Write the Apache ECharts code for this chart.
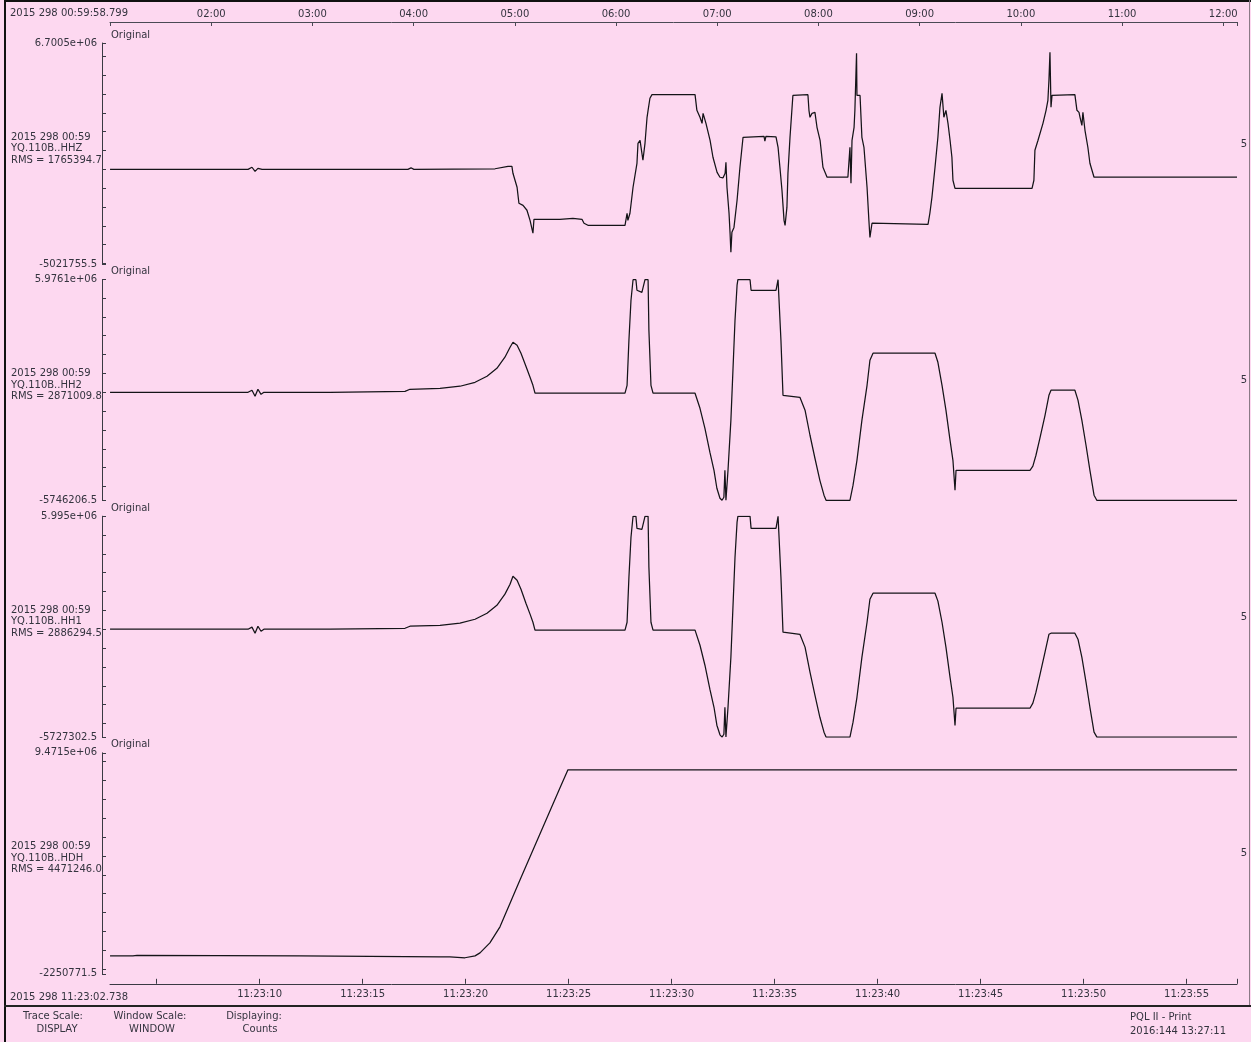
<!DOCTYPE html>
<html>
<head>
<meta charset="utf-8">
<script src="https://cdn.jsdelivr.net/npm/echarts@6/dist/echarts.min.js"></script>
<style>
  html, body { margin: 0; padding: 0; background: #fdd8f0; }
  #chart { width: 1251px; height: 1042px; }
</style>
</head>
<body>
<div id="chart"></div>
<script>
// ---- Trace data ----------------------------------------------------------
// Time: seconds after 2015 298 11:23:00; amplitude: counts, in millions.
const hhzSec = [2.74,9.44,9.63,9.78,9.92,10.12,17.20,17.35,17.49,21.43,22.06,22.25,22.30,22.50,22.59,22.79,22.98,23.13,23.27,23.32,24.58,25.21,25.65,25.75,25.94,27.74,27.84,27.88,27.98,28.13,28.32,28.37,28.47,28.61,28.71,28.81,28.86,28.95,29.05,31.14,31.23,31.38,31.48,31.53,31.67,31.87,32.01,32.21,32.35,32.50,32.60,32.64,32.69,32.79,32.84,32.88,32.93,33.03,33.18,33.32,33.47,33.51,34.49,34.53,34.58,35.07,35.17,35.26,35.36,35.46,35.51,35.60,35.65,35.75,35.89,36.62,36.67,36.72,36.82,36.96,37.06,37.21,37.35,37.55,38.56,38.66,38.71,38.76,38.86,38.90,38.98,39.00,39.15,39.24,39.34,39.49,39.58,39.63,39.73,39.78,42.45,42.54,42.64,42.79,42.93,43.03,43.13,43.22,43.32,43.42,43.52,43.61,43.66,43.76,47.50,47.59,47.64,47.79,48.03,48.18,48.27,48.32,48.37,48.42,48.47,49.58,49.68,49.78,49.83,49.92,49.97,50.07,50.21,50.31,50.51,57.45];
const hhzMc = [0,0,0.11,-0.11,0.05,0,0,0.08,0,0.03,0.16,0.16,-0.21,-0.95,-1.80,-1.91,-2.17,-2.71,-3.39,-2.65,-2.65,-2.60,-2.65,-2.86,-2.97,-2.97,-2.33,-2.71,-2.33,-0.95,0.32,1.38,1.54,0.48,1.38,2.76,3.13,3.77,3.96,3.96,3.13,2.76,2.44,2.97,2.44,1.54,0.64,-0.16,-0.42,-0.45,-0.21,0.37,-0.95,-2.33,-3.39,-4.40,-3.34,-3.08,-1.64,0.11,1.70,1.75,1.75,1.49,1.75,1.72,1.17,0.11,-1.11,-2.71,-2.97,-2.02,-0.21,1.70,3.92,3.96,3.13,2.76,2.97,3.02,2.23,1.54,0.11,-0.42,-0.42,1.17,-0.74,1.54,2.23,3.13,6.15,3.92,3.92,1.70,1.17,-0.95,-2.71,-3.61,-2.86,-2.92,-2.92,-2.33,-1.49,0.11,1.70,3.29,4.03,2.76,3.13,2.44,1.54,0.64,-0.58,-1.01,-1.01,-0.58,1.01,1.54,2.44,3.13,3.66,4.72,6.21,3.29,3.92,3.96,3.13,3.02,2.76,2.33,3.02,2.07,1.17,0.32,-0.42,-0.42];

const hh2Sec = [2.74,9.44,9.63,9.78,9.92,10.07,10.21,13.42,17.06,17.30,18.76,19.73,20.46,21.04,21.52,21.91,22.16,22.30,22.50,22.69,22.93,23.13,23.27,23.37,27.74,27.84,27.93,28.03,28.13,28.27,28.32,28.56,28.71,28.86,28.90,29.00,29.10,31.14,31.38,31.62,31.86,32.06,32.20,32.35,32.45,32.54,32.59,32.64,32.74,32.88,32.98,33.08,33.18,33.22,33.81,33.86,35.07,35.17,35.26,35.31,35.41,36.23,36.48,36.72,36.96,37.20,37.40,37.50,38.66,38.81,39.00,39.24,39.49,39.63,39.78,42.79,42.93,43.13,43.32,43.52,43.66,43.76,43.81,43.90,47.40,47.54,47.69,47.88,48.13,48.32,48.42,49.58,49.73,49.92,50.12,50.31,50.51,50.65,57.45];
const hh2Mc = [0,0,0.11,-0.21,0.16,-0.11,0,0,0.05,0.16,0.21,0.32,0.53,0.85,1.27,1.86,2.39,2.65,2.49,2.07,1.38,0.80,0.37,-0.05,-0.05,0.37,2.76,4.88,5.97,5.97,5.41,5.30,5.97,5.97,3.29,0.37,-0.05,-0.05,-0.85,-1.91,-3.18,-4.14,-5.09,-5.62,-5.73,-5.57,-4.14,-5.73,-4.14,-1.49,1.17,3.82,5.68,5.97,5.97,5.41,5.41,5.97,5.97,2.76,-0.16,-0.27,-0.95,-2.28,-3.50,-4.67,-5.46,-5.73,-5.73,-4.93,-3.61,-1.49,0.37,1.70,2.07,2.07,1.59,0.37,-0.95,-2.55,-3.61,-5.20,-4.14,-4.14,-4.14,-3.92,-3.34,-2.44,-1.22,-0.16,0.11,0.11,-0.42,-1.49,-2.81,-4.14,-5.46,-5.74,-5.74];

const hh1Sec = [2.74,9.44,9.63,9.78,9.92,10.07,10.21,13.42,17.06,17.30,18.76,19.73,20.46,21.04,21.52,21.91,22.16,22.30,22.50,22.69,22.93,23.13,23.27,23.37,27.74,27.84,27.93,28.03,28.13,28.27,28.32,28.56,28.71,28.86,28.90,29.00,29.10,31.14,31.38,31.62,31.86,32.06,32.20,32.35,32.45,32.54,32.59,32.64,32.74,32.88,32.98,33.08,33.18,33.22,33.81,33.86,35.07,35.17,35.26,35.31,35.41,36.23,36.48,36.72,36.96,37.20,37.40,37.50,38.66,38.81,39.00,39.24,39.49,39.63,39.78,42.79,42.93,43.13,43.32,43.52,43.66,43.76,43.81,43.90,47.40,47.54,47.69,47.88,48.13,48.32,48.42,49.58,49.73,49.92,50.12,50.31,50.51,50.65,57.45];
const hh1Mc = [0,0,0.11,-0.21,0.16,-0.11,0,0,0.05,0.16,0.21,0.32,0.53,0.85,1.27,1.86,2.39,2.81,2.60,2.12,1.38,0.80,0.37,-0.05,-0.05,0.37,2.76,4.88,5.99,5.99,5.35,5.30,5.99,5.99,3.29,0.37,-0.05,-0.05,-0.85,-1.91,-3.18,-4.14,-5.09,-5.60,-5.72,-5.57,-4.14,-5.72,-4.14,-1.49,1.17,3.82,5.68,5.99,5.99,5.35,5.35,5.99,5.99,2.76,-0.16,-0.27,-0.95,-2.28,-3.50,-4.67,-5.46,-5.72,-5.72,-4.93,-3.61,-1.49,0.37,1.59,1.91,1.91,1.49,0.37,-0.95,-2.55,-3.61,-5.10,-4.19,-4.19,-4.19,-3.92,-3.34,-2.44,-1.22,-0.27,-0.21,-0.21,-0.53,-1.49,-2.81,-4.14,-5.46,-5.72,-5.72];

const hdhSec = [2.74,3.85,4.05,11.96,18.76,19.24,19.97,20.46,20.70,21.18,21.67,22.64,23.61,24.58,24.97,57.45];
const hdhMc = [-1.30,-1.30,-1.27,-1.30,-1.35,-1.35,-1.40,-1.30,-1.14,-0.61,0.24,2.73,5.17,7.61,8.57,8.57];

// ---- Panel headers ---------------------------------------------------------
const channels = ['YQ.110B..HHZ', 'YQ.110B..HH2', 'YQ.110B..HH1', 'YQ.110B..HDH'];
const rmsValues = ['1765394.7', '2871009.8', '2886294.5', '4471246.0'];
const windowMax = [6.7005e6, 5.9761e6, 5.995e6, 9.4715e6];
const windowMin = [-5021755.5, -5746206.5, -5727302.5, -2250771.5];
const traceStart = '2015 298 00:59';

// ---- Time axes --------------------------------------------------------------
const secondsMin = 2.738, secondsMax = 57.45;
const secondTicks = [5, 10, 15, 20, 25, 30, 35, 40, 45, 50, 55];
const secondLabels = [10, 15, 20, 25, 30, 35, 40, 45, 50, 55];
const hourMin = 0.99967, hourMax = 12.136;
const hourTicks = [1, 2, 3, 4, 5, 6, 7, 8, 9, 10, 11, 12];
const hourLabels = [2, 3, 4, 5, 6, 7, 8, 9, 10, 11, 12];
const topStartText = '2015 298 00:59:58.799';
const bottomStartText = '2015 298 11:23:02.738';

// ---- Helpers ---------------------------------------------------------------
const FONT = '10px "DejaVu Sans"';
const INK = '#34343f';
const pad2 = v => (v < 10 ? '0' : '') + v;

// window limits printed like C's %g for the top and %.1f for the bottom
function fmtLimit(v) {
  if (v < 0) return v.toFixed(1);
  const s = v.toPrecision(5);
  if (s.indexOf('e') < 0) return s;
  let [m, e] = s.split('e');
  if (m.indexOf('.') >= 0) m = m.replace(/0+$/, '').replace(/\.$/, '');
  let d = e.slice(1);
  if (d.length < 2) d = '0' + d;
  return m + 'e' + e[0] + d;
}
function countTicks(min, max) {
  const out = [min];
  for (let k = Math.ceil(min / 1e6); k <= Math.floor(max / 1e6); k++) out.push(k * 1e6);
  out.push(max);
  return out;
}
const pairs = (t, m) => t.map((s, i) => [s, m[i] * 1e6]);

const traces = [pairs(hhzSec, hhzMc), pairs(hh2Sec, hh2Mc), pairs(hh1Sec, hh1Mc), pairs(hdhSec, hdhMc)];

// ---- Layout ----------------------------------------------------------------
const PLOT_LEFT = 110, PLOT_W = 1127, PANEL_H = 221;
const panelTop = [43, 279.6, 516.2, 752.8];

const grids = panelTop.map(t => ({ left: PLOT_LEFT, top: t, width: PLOT_W, height: PANEL_H }));

const xAxes = panelTop.map((t, i) => {
  const isBottom = i === panelTop.length - 1;
  return {
    type: 'value', gridIndex: i, min: secondsMin, max: secondsMax,
    show: isBottom, position: 'bottom', offset: 10,
    axisLine: { show: true, onZero: false, lineStyle: { color: '#3a3a44', width: 1 } },
    axisTick: { show: true, inside: true, length: 5, customValues: secondTicks.concat([secondsMax]), lineStyle: { color: '#3a3a44' } },
    axisLabel: { show: true, customValues: secondLabels, margin: 6, color: INK, fontFamily: 'DejaVu Sans', fontSize: 10,
      formatter: v => '11:23:' + pad2(Math.round(v)) },
    splitLine: { show: false }
  };
});
// hour scale along the top edge
xAxes.push({
  type: 'value', gridIndex: 0, min: hourMin, max: hourMax, position: 'top', offset: 21,
  axisLine: { show: true, onZero: false, lineStyle: { color: '#4a4a55', width: 1 } },
  axisTick: { show: true, inside: true, length: 4, customValues: hourTicks.concat([hourMax]), lineStyle: { color: '#4a4a55' } },
  axisLabel: { show: true, customValues: hourLabels, margin: 3, color: INK, fontFamily: 'DejaVu Sans', fontSize: 10,
    formatter: v => pad2(Math.round(v)) + ':00' },
  splitLine: { show: false }
});

const yAxes = panelTop.map((t, i) => {
  const min = windowMin[i], max = windowMax[i];
  return {
    type: 'value', gridIndex: i, min, max, position: 'left', offset: 8,
    axisLine: { show: true, onZero: false, lineStyle: { color: '#3a3a44', width: 1 } },
    axisTick: { show: true, inside: true, length: 4, customValues: countTicks(min, max), lineStyle: { color: '#3a3a44' } },
    axisLabel: { show: true, customValues: [min, max], margin: 5, color: INK, fontFamily: 'DejaVu Sans', fontSize: 10,
      formatter: v => fmtLimit(Math.abs(v - max) < Math.abs(v - min) ? max : min) },
    splitLine: { show: false }
  };
});

const series = traces.map((d, i) => ({
  type: 'line', xAxisIndex: i, yAxisIndex: i, data: d,
  showSymbol: false, symbol: 'none', silent: true,
  lineStyle: { color: '#141418', width: 1.25 }
}));

// ---- Text and frame --------------------------------------------------------
const txt = (text, x, y, align) => ({
  type: 'text', silent: true,
  style: { text, x, y, fill: INK, font: FONT, textAlign: align || 'left', textVerticalAlign: 'middle' }
});
const graphics = [
  { type: 'rect', silent: true, shape: { x: 4, y: 0, width: 2, height: 1042 }, style: { fill: '#111' } },
  { type: 'rect', silent: true, shape: { x: 4, y: 0, width: 1247, height: 2 }, style: { fill: '#111' } },
  { type: 'rect', silent: true, shape: { x: 4, y: 1005, width: 1247, height: 2 }, style: { fill: '#222' } },
  { type: 'rect', silent: true, shape: { x: 1249, y: 0, width: 1, height: 1005 }, style: { fill: '#8a7a86' } },
  txt(topStartText, 10, 13),
  txt(bottomStartText, 10, 997),
  txt('Trace Scale:', 53, 1016, 'center'),
  txt('DISPLAY', 57, 1029, 'center'),
  txt('Window Scale:', 150, 1016, 'center'),
  txt('WINDOW', 152, 1029, 'center'),
  txt('Displaying:', 254, 1016, 'center'),
  txt('Counts', 260, 1029, 'center'),
  txt('PQL II - Print', 1130, 1017),
  txt('2016:144 13:27:11', 1130, 1031)
];
panelTop.forEach((t, i) => {
  graphics.push(txt('Original', 111, t - 8));
  graphics.push(txt(traceStart, 11, t + 94));
  graphics.push(txt(channels[i], 11, t + 105.5));
  graphics.push(txt('RMS = ' + rmsValues[i], 11, t + 117));
  graphics.push(txt('5', 1244, t + 101, 'center'));
});

const chart = echarts.init(document.getElementById('chart'), null, { renderer: 'canvas' });
chart.setOption({
  animation: false,
  backgroundColor: '#fdd8f0',
  textStyle: { fontFamily: 'DejaVu Sans' },
  grid: grids,
  xAxis: xAxes,
  yAxis: yAxes,
  series,
  graphic: graphics
});
</script>
</body>
</html>
